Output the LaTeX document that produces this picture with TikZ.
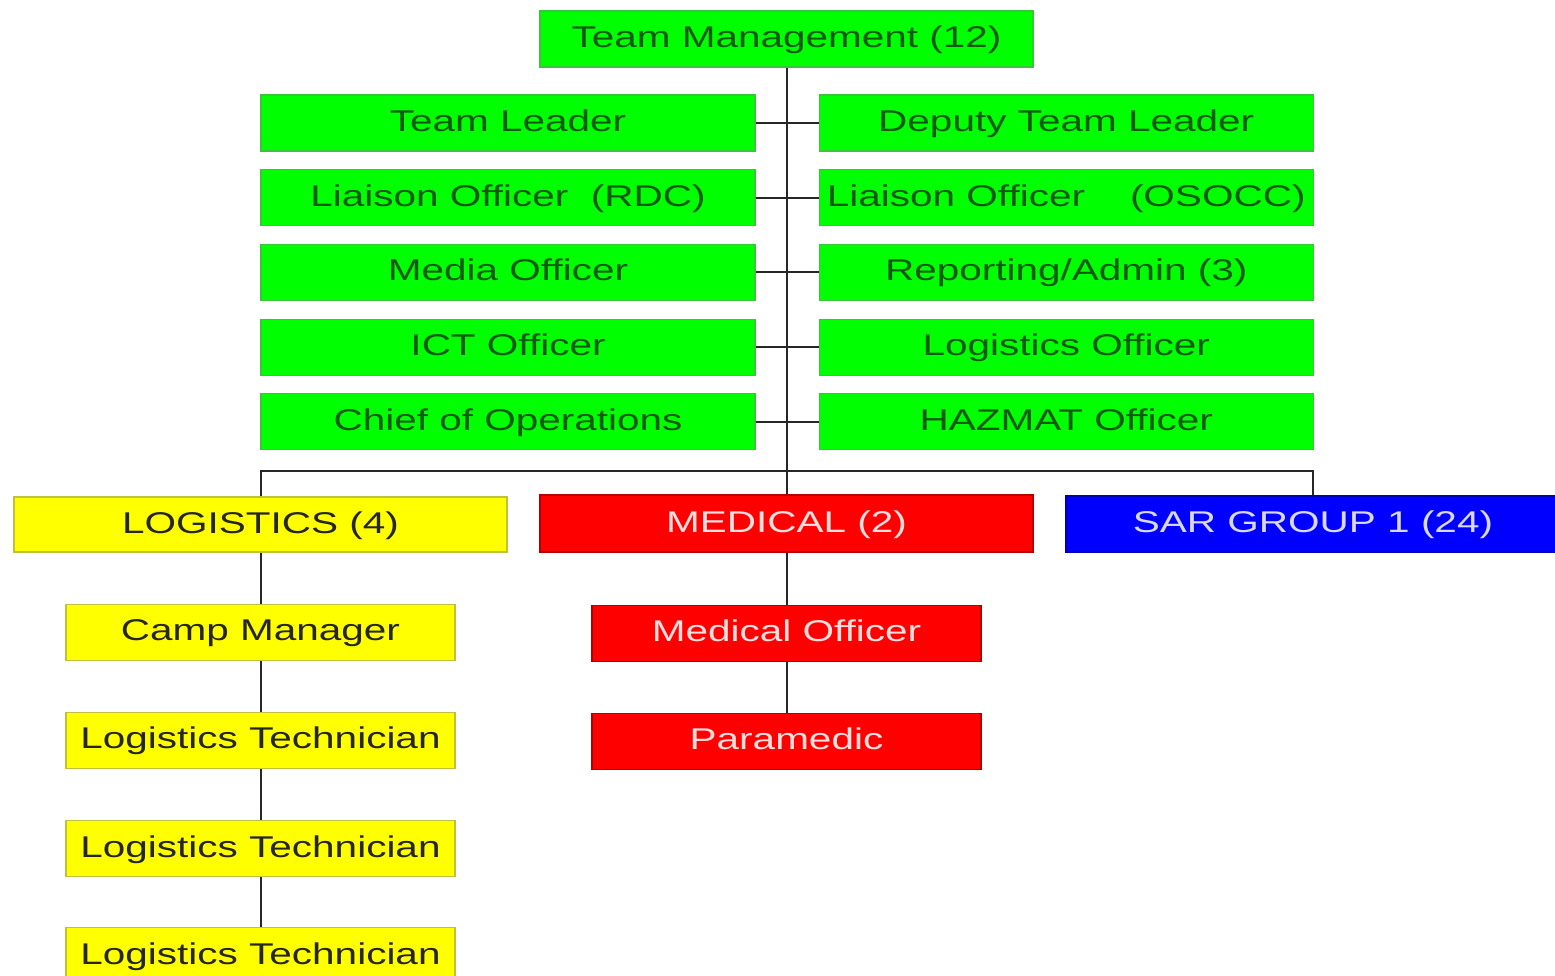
\documentclass[tikz,border=0pt]{standalone}
\usepackage{fontspec}
\setmainfont[FakeStretch=1.35]{Liberation Sans}
\usepackage{xcolor}
\usepackage{tikz}
\usetikzlibrary{
  positioning,
  calc
}
\definecolor{mgmtgreen}{RGB}{0,255,0}
\definecolor{mgmttext}{RGB}{15,90,15}
\definecolor{logyellow}{RGB}{255,255,0}
\definecolor{medred}{RGB}{255,0,0}
\definecolor{medtext}{RGB}{255,222,222}
\definecolor{sarblue}{RGB}{0,0,255}
\definecolor{sartext}{RGB}{215,215,255}

\begin{document}
\begin{tikzpicture}[
  x=1pt,y=-1pt,
  node distance=17.5pt and 63pt,
  box/.style={rectangle,inner sep=0pt,minimum height=56pt,text height=22pt,text depth=5pt,line width=1.2pt,font=\fontsize{30}{36}\selectfont},
  mgmt/.style={box,fill=mgmtgreen,draw=mgmtgreen!55!gray,text=mgmttext,minimum width=494pt},
  logi/.style={box,fill=logyellow,draw=logyellow!50!gray,text=black!85,minimum width=389pt},
  medi/.style={box,fill=medred,draw=medred!70!black,text=medtext,minimum width=389pt},
  unit/.style={box,minimum width=493pt},
  link/.style={line width=2pt,black!85},
]
\useasboundingbox[fill=white] (0,0) rectangle (1555,976);

% management
\node[mgmt,minimum width=493pt] (mgmt) at (786.5,39) {Team Management (12)};
\node[mgmt] (lead) at (508,123) {Team Leader};
\node[mgmt,right=of lead] (deputy) {Deputy Team Leader};
\node[mgmt,below=of lead] (rdc) {Liaison Officer\ \ (RDC)};
\node[mgmt,right=of rdc] (osocc) {Liaison Officer\ \ \ \ (OSOCC)};
\node[mgmt,below=of rdc] (media) {Media Officer};
\node[mgmt,right=of media] (admin) {Reporting/Admin (3)};
\node[mgmt,below=of media] (ict) {ICT Officer};
\node[mgmt,right=of ict] (logoff) {Logistics Officer};
\node[mgmt,below=of ict] (chief) {Chief of Operations};
\node[mgmt,right=of chief] (hazmat) {HAZMAT Officer};

% sections
\node[unit,fill=logyellow,draw=logyellow!50!gray,text=black!85,minimum height=55pt] (log) at (260.5,524.5) {LOGISTICS (4)};
\node[unit,fill=medred,draw=medred!70!black,text=medtext,minimum height=57pt] (med) at (786.5,523.5) {MEDICAL (2)};
\node[unit,fill=sarblue,draw=sarblue!70!black,text=sartext,minimum width=494pt] (sar) at (1313,524) {SAR GROUP 1 (24)};
\coordinate (bus) at (786.5,471);

% logistics and medical staff
\node[logi,below=51pt of log] (camp) {Camp Manager};
\node[logi,below=51pt of camp] (tech1) {Logistics Technician};
\node[logi,below=51pt of tech1] (tech2) {Logistics Technician};
\node[logi,below=50pt of tech2] (tech3) {Logistics Technician};
\node[medi,below=52pt of med] (medoff) {Medical Officer};
\node[medi,below=51pt of medoff] (para) {Paramedic};

\draw[link] (mgmt) -- (med);
\foreach \a/\b in {lead/deputy,rdc/osocc,media/admin,ict/logoff,chief/hazmat}
  \draw[link] (\a) -- (\b);
\draw[link] (log.north) |- (bus) -| (sar.north);
\draw[link] (log) -- (camp) -- (tech1) -- (tech2) -- (tech3);
\draw[link] (med) -- (medoff) -- (para);
\end{tikzpicture}
\end{document}
